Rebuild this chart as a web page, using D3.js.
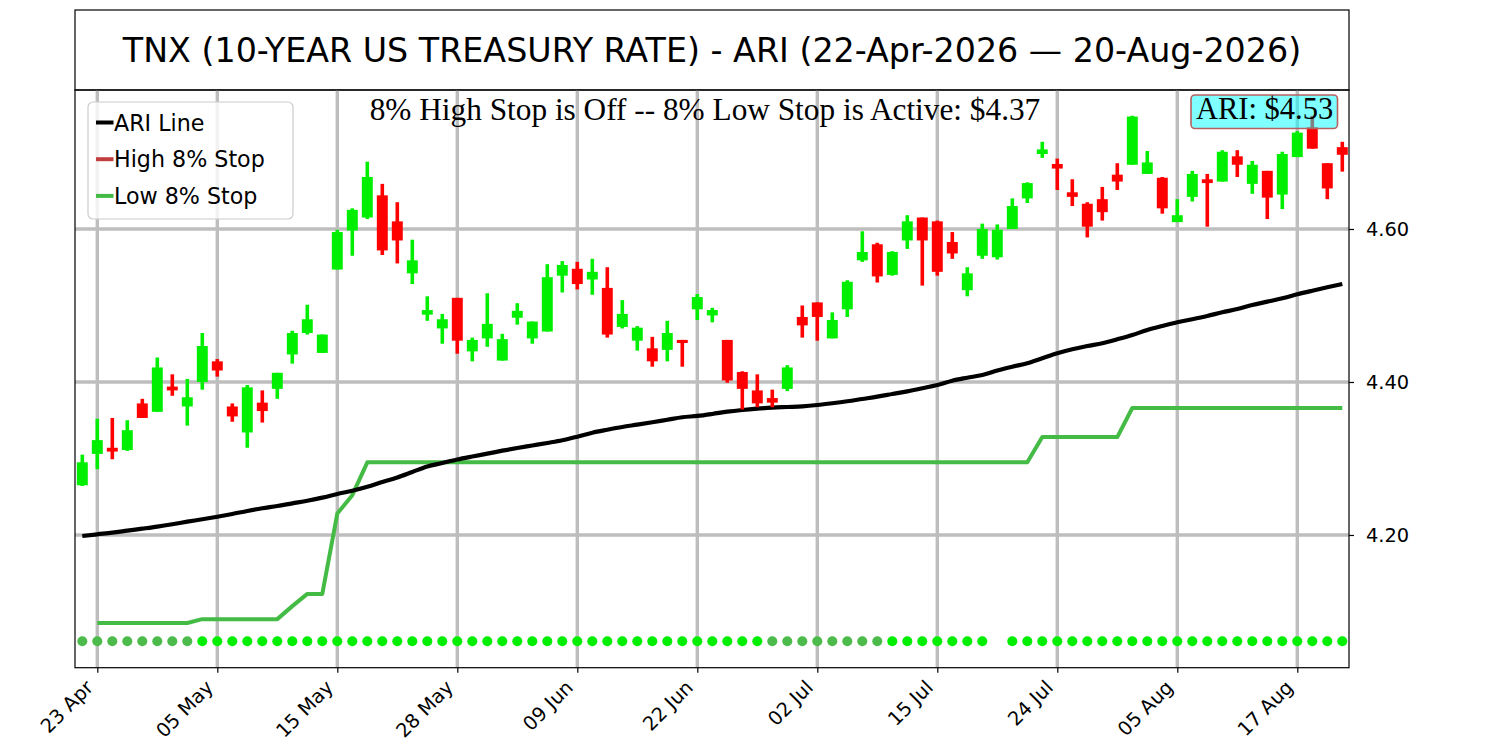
<!DOCTYPE html>
<html>
<head>
<meta charset="utf-8">
<script src="https://cdn.jsdelivr.net/npm/d3@7"></script>
<style>
  html, body { margin: 0; padding: 0; background: #ffffff; }
  svg { display: block; }
</style>
</head>
<body>
<svg id="chart" width="1500" height="750"></svg>
<script>
// ---------------- DATA ----------------
const dates = [
  "22 Apr","23 Apr","24 Apr","27 Apr","28 Apr","29 Apr","30 Apr","01 May","04 May","05 May",
  "06 May","07 May","08 May","11 May","12 May","13 May","14 May","15 May","18 May","19 May",
  "20 May","21 May","22 May","26 May","27 May","28 May","29 May","01 Jun","02 Jun","03 Jun",
  "04 Jun","05 Jun","08 Jun","09 Jun","10 Jun","11 Jun","12 Jun","15 Jun","16 Jun","17 Jun",
  "18 Jun","22 Jun","23 Jun","24 Jun","25 Jun","26 Jun","29 Jun","30 Jun","01 Jul","02 Jul",
  "06 Jul","07 Jul","08 Jul","09 Jul","10 Jul","13 Jul","14 Jul","15 Jul","16 Jul","17 Jul",
  "18 Jul","20 Jul","21 Jul","22 Jul","23 Jul","24 Jul","27 Jul","28 Jul","29 Jul","30 Jul",
  "31 Jul","03 Aug","04 Aug","05 Aug","06 Aug","07 Aug","10 Aug","11 Aug","12 Aug","13 Aug",
  "14 Aug","17 Aug","18 Aug","19 Aug","20 Aug"
];

const opens = [
  4.265,4.306,4.314,4.311,4.372,4.361,4.394,4.368,4.400,4.427,
  4.368,4.334,4.373,4.391,4.436,4.464,4.438,4.547,4.598,4.615,
  4.644,4.610,4.542,4.488,4.470,4.510,4.440,4.457,4.428,4.484,
  4.457,4.466,4.539,4.548,4.534,4.523,4.472,4.454,4.444,4.442,
  4.455,4.495,4.487,4.455,4.413,4.389,4.379,4.391,4.485,4.504,
  4.457,4.495,4.559,4.580,4.540,4.585,4.615,4.610,4.583,4.520,
  4.565,4.563,4.600,4.640,4.698,4.685,4.648,4.633,4.639,4.671,
  4.684,4.672,4.667,4.609,4.642,4.665,4.662,4.695,4.659,4.676,
  4.645,4.694,4.733,4.686,4.707
];
const highs = [
  4.305,4.352,4.353,4.350,4.378,4.432,4.410,4.404,4.464,4.430,
  4.372,4.396,4.389,4.412,4.467,4.501,4.462,4.599,4.627,4.688,
  4.659,4.635,4.586,4.512,4.489,4.510,4.458,4.516,4.463,4.503,
  4.479,4.554,4.558,4.557,4.561,4.550,4.507,4.473,4.459,4.480,
  4.455,4.515,4.497,4.455,4.414,4.410,4.390,4.422,4.500,4.504,
  4.491,4.533,4.597,4.582,4.571,4.618,4.615,4.611,4.596,4.550,
  4.607,4.606,4.640,4.661,4.714,4.692,4.665,4.635,4.655,4.686,
  4.748,4.702,4.668,4.639,4.676,4.672,4.703,4.703,4.689,4.676,
  4.701,4.728,4.748,4.686,4.714
];
const lows = [
  4.264,4.286,4.299,4.310,4.353,4.361,4.382,4.343,4.390,4.407,
  4.348,4.314,4.347,4.378,4.424,4.462,4.438,4.547,4.565,4.613,
  4.566,4.555,4.528,4.480,4.450,4.437,4.427,4.446,4.428,4.475,
  4.450,4.466,4.517,4.521,4.514,4.458,4.470,4.441,4.420,4.427,
  4.420,4.481,4.478,4.399,4.364,4.367,4.367,4.388,4.458,4.454,
  4.457,4.485,4.557,4.530,4.539,4.574,4.526,4.539,4.561,4.512,
  4.561,4.560,4.600,4.634,4.693,4.651,4.630,4.589,4.611,4.651,
  4.684,4.672,4.620,4.609,4.636,4.603,4.662,4.668,4.646,4.613,
  4.626,4.694,4.705,4.639,4.675
];
const closes = [
  4.295,4.324,4.309,4.337,4.353,4.419,4.389,4.380,4.447,4.415,
  4.355,4.393,4.362,4.412,4.464,4.482,4.462,4.596,4.625,4.668,
  4.572,4.585,4.559,4.494,4.482,4.454,4.455,4.476,4.456,4.493,
  4.479,4.537,4.553,4.528,4.544,4.462,4.489,4.471,4.427,4.464,
  4.451,4.511,4.494,4.402,4.391,4.372,4.373,4.419,4.474,4.485,
  4.481,4.531,4.570,4.538,4.570,4.610,4.585,4.544,4.568,4.542,
  4.600,4.599,4.630,4.660,4.704,4.679,4.642,4.603,4.622,4.662,
  4.747,4.687,4.627,4.618,4.672,4.660,4.701,4.684,4.684,4.641,
  4.698,4.726,4.705,4.653,4.697
];

const ariLine = [
  4.1987,4.2009,4.2030,4.2056,4.2082,4.2109,4.2140,4.2174,4.2205,4.2239,
  4.2275,4.2314,4.2349,4.2379,4.2414,4.2448,4.2488,4.2536,4.2579,4.2631,
  4.2693,4.2752,4.2824,4.2895,4.2941,4.2987,4.3026,4.3063,4.3102,4.3137,
  4.3170,4.3203,4.3238,4.3285,4.3337,4.3376,4.3412,4.3442,4.3473,4.3506,
  4.3539,4.3556,4.3582,4.3612,4.3634,4.3651,4.3664,4.3673,4.3682,4.3699,
  4.3722,4.3748,4.3778,4.3808,4.3843,4.3878,4.3918,4.3961,4.4017,4.4056,
  4.4092,4.4150,4.4200,4.4245,4.4310,4.4375,4.4427,4.4470,4.4506,4.4558,
  4.4614,4.4680,4.4732,4.4780,4.4820,4.4863,4.4911,4.4954,4.5007,4.5050,
  4.5094,4.5146,4.5193,4.5238,4.5281
];

const lowStop = [
  null,4.085,4.085,4.085,4.085,4.085,4.085,4.085,4.090,4.090,
  4.090,4.090,4.090,4.090,4.107,4.123,4.123,4.228,4.252,4.295,
  4.295,4.295,4.295,4.295,4.295,4.295,4.295,4.295,4.295,4.295,
  4.295,4.295,4.295,4.295,4.295,4.295,4.295,4.295,4.295,4.295,
  4.295,4.295,4.295,4.295,4.295,4.295,4.295,4.295,4.295,4.295,
  4.295,4.295,4.295,4.295,4.295,4.295,4.295,4.295,4.295,4.295,
  4.295,4.295,4.295,4.295,4.328,4.328,4.328,4.328,4.328,4.328,
  4.366,4.366,4.366,4.366,4.366,4.366,4.366,4.366,4.366,4.366,
  4.366,4.366,4.366,4.366,4.366
];

// state dots along the bottom: "d" = dark green, "b" = bright green, null = none
const signalState = [
  "d","d","d","d","d","d","d","d","b","b",
  "b","b","b","b","b","b","b","b","b","b",
  "b","b","b","b","b","b","b","b","b","b",
  "b","b","b","b","b","b","b","b","b","b",
  "b","b","b","b","b","b","d","d","d","d",
  "d","d","d","d","b","b","b","b","b","b",
  "b",null,"b","b","b","b","b","b","b","b",
  "b","b","b","b","b","b","b","b","b","b",
  "b","b","b","b","b"
];
const signalLevel = 4.061;

const xTickIdx = [1, 9, 17, 25, 33, 41, 49, 57, 65, 73, 81];
const yTickVals = [4.20, 4.40, 4.60];

const titleText = "TNX (10-YEAR US TREASURY RATE) - ARI (22-Apr-2026 \u2014 20-Aug-2026)";
const statusText = "8% High Stop is Off -- 8% Low Stop is Active: $4.37";
const ariLabel = "ARI: $4.53";
const legendItems = [
  { name: "ARI Line", color: "#000000" },
  { name: "High 8% Stop", color: "#c04040" },
  { name: "Low 8% Stop", color: "#44bb44" }
];

// ---------------- LAYOUT ----------------
const L = 75, R = 1349, T = 90, B = 667.7;
const svg = d3.select("#chart");
const sans = "'DejaVu Sans', Verdana, sans-serif";
const serif = "'Liberation Serif', 'Times New Roman', serif";

const x = d3.scaleLinear().domain([-0.487, 84.447]).range([L, R]);
const y = d3.scaleLinear().domain([4.0265, 4.7817]).range([B, T]);

const GREEN = "#00ee00", RED = "#ff0000";
const GRID = "#bebebe";

// Title box
svg.append("rect").attr("x", L).attr("y", 10).attr("width", R - L).attr("height", T - 10)
  .attr("fill", "#fff").attr("stroke", "#000").attr("stroke-width", 1.2);
svg.append("text").attr("x", (L + R) / 2).attr("y", 50)
  .attr("text-anchor", "middle").attr("dominant-baseline", "central")
  .attr("font-family", sans).attr("font-size", 33.3).attr("fill", "#000")
  .text(titleText);

svg.append("defs").append("clipPath").attr("id", "plotclip")
  .append("rect").attr("x", L).attr("y", T).attr("width", R - L).attr("height", B - T);

const plot = svg.append("g").attr("clip-path", "url(#plotclip)");

// grid
plot.append("g").selectAll("line.vg").data(xTickIdx).join("line")
  .attr("x1", d => x(d)).attr("x2", d => x(d)).attr("y1", T).attr("y2", B)
  .attr("stroke", GRID).attr("stroke-width", 3.4);
plot.append("g").selectAll("line.hg").data(yTickVals).join("line")
  .attr("x1", L).attr("x2", R).attr("y1", d => y(d)).attr("y2", d => y(d))
  .attr("stroke", GRID).attr("stroke-width", 3.4);

// low stop line
const idx = d3.range(dates.length);
plot.append("path")
  .attr("d", d3.line().defined(i => lowStop[i] != null).x(i => x(i)).y(i => y(lowStop[i]))(idx))
  .attr("fill", "none").attr("stroke", "#44bb44").attr("stroke-width", 4)
  .attr("stroke-linejoin", "round");

// ARI line
plot.append("path")
  .attr("d", d3.line().x(i => x(i)).y(i => y(ariLine[i])).curve(d3.curveMonotoneX)(idx))
  .attr("fill", "none").attr("stroke", "#000").attr("stroke-width", 4.2)
  .attr("stroke-linejoin", "round");

// candles
const bodyW = x(0.73) - x(0);
const wickW = 3.6;
const cg = plot.append("g");
idx.forEach(i => {
  const up = closes[i] >= opens[i];
  const col = up ? GREEN : RED;
  cg.append("rect")
    .attr("x", x(i) - wickW / 2).attr("width", wickW)
    .attr("y", y(highs[i])).attr("height", Math.max(1, y(lows[i]) - y(highs[i])))
    .attr("fill", col);
  const top = y(Math.max(opens[i], closes[i]));
  const bot = y(Math.min(opens[i], closes[i]));
  cg.append("rect")
    .attr("x", x(i) - bodyW / 2).attr("width", bodyW)
    .attr("y", top).attr("height", Math.max(3, bot - top))
    .attr("fill", col);
});

// state dots
plot.append("g").selectAll("circle").data(idx.filter(i => signalState[i] != null)).join("circle")
  .attr("cx", i => x(i)).attr("cy", y(signalLevel)).attr("r", 5)
  .attr("fill", i => signalState[i] === "d" ? "#4cbb4c" : "#00ee00");

// status text
svg.append("text").attr("x", 705).attr("y", 120).attr("text-anchor", "middle")
  .attr("font-family", serif).attr("font-size", 31.3).attr("fill", "#000")
  .text(statusText);

// ARI label box
const lab = svg.append("g");
lab.append("rect").attr("x", 1191).attr("y", 95).attr("width", 146.5).attr("height", 33.5)
  .attr("rx", 4).attr("fill", "#00ffff").attr("fill-opacity", 0.5)
  .attr("stroke", "#b86060").attr("stroke-width", 1.6);
lab.append("text").attr("x", 1264.5).attr("y", 118.5).attr("text-anchor", "middle")
  .attr("font-family", serif).attr("font-size", 30.5).attr("fill", "#000")
  .text(ariLabel);

// legend
const lg = svg.append("g");
lg.append("rect").attr("x", 88).attr("y", 102).attr("width", 205).attr("height", 117)
  .attr("rx", 5).attr("fill", "#fff").attr("fill-opacity", 0.8)
  .attr("stroke", "#cccccc").attr("stroke-width", 1.2);
legendItems.forEach((d, k) => {
  const cy = 122.5 + k * 36.7;
  lg.append("line").attr("x1", 96).attr("x2", 113.5).attr("y1", cy).attr("y2", cy)
    .attr("stroke", d.color).attr("stroke-width", 4);
  lg.append("text").attr("x", 114).attr("y", cy + 8.2)
    .attr("font-family", sans).attr("font-size", 22.2).attr("fill", "#000")
    .text(d.name);
});

// spines
svg.append("rect").attr("x", L).attr("y", T).attr("width", R - L).attr("height", B - T)
  .attr("fill", "none").attr("stroke", "#000").attr("stroke-width", 1.2);

// x axis
const xAxis = svg.append("g").attr("transform", `translate(0,${B})`)
  .call(d3.axisBottom(x).tickValues(xTickIdx).tickFormat(i => dates[i]).tickSize(5).tickPadding(0));
xAxis.select(".domain").remove();
xAxis.selectAll(".tick line").attr("stroke", "#000").attr("stroke-width", 1.2);
xAxis.selectAll(".tick text")
  .attr("font-family", sans).attr("font-size", 19.4).attr("fill", "#000")
  .attr("text-anchor", "end").attr("dy", null)
  .attr("transform", "translate(-3.5,21) rotate(-45)")
  .attr("y", 0).attr("x", 0);

// y axis (right)
const yAxis = svg.append("g").attr("transform", `translate(${R},0)`)
  .call(d3.axisRight(y).tickValues(yTickVals).tickFormat(d3.format(".2f")).tickSize(5).tickPadding(12));
yAxis.select(".domain").remove();
yAxis.selectAll(".tick line").attr("stroke", "#000").attr("stroke-width", 1.2);
yAxis.selectAll(".tick text").attr("font-family", sans).attr("font-size", 19.4).attr("fill", "#000");
</script>
</body>
</html>
